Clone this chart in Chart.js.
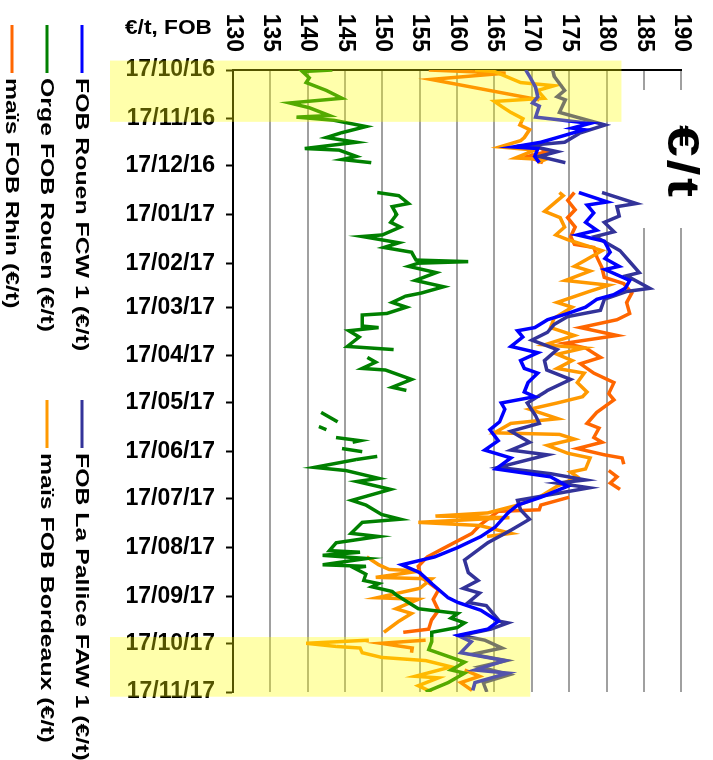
<!DOCTYPE html>
<html>
<head>
<meta charset="utf-8">
<script src="https://cdn.jsdelivr.net/npm/chart.js@4.4.0/dist/chart.umd.min.js"></script>
<style>
  html, body { margin: 0; padding: 0; background: #fff; overflow: hidden; }
  #wrap {
    position: absolute; left: 0; top: 0; width: 760px; height: 713px;
    transform-origin: 0 0; transform: translate(713px, 0) rotate(90deg);
  }
</style>
</head>
<body>
<div id="wrap"><canvas id="prixChart" width="760" height="713"></canvas></div>
<script>
// days since 17/10/16, value in €/t ; null = no quote
const tickLabels = ['17/10/16', '17/11/16', '17/12/16', '17/01/17', '17/02/17', '17/03/17', '17/04/17',
  '17/05/17', '17/06/17', '17/07/17', '17/08/17', '17/09/17', '17/10/17', '17/11/17'];

const seriesNames = ['FOB Rouen FCW 1 (€/t)', 'FOB La Pallice FAW 1 (€/t)', 'Orge FOB Rouen (€/t)',
  'maïs FOB Bordeaux (€/t)', 'maïs FOB Rhin (€/t)'];
const seriesColors = ['#0000ff', '#333399', '#008000', '#ff9900', '#ff6600'];

const rouenFcw = [[0,169.2],[4,169.7],[11,170.5],[17,170.8],[21,170.1],[23,171],[30,170.5],[34,177.8],[37,175.4],[38,177],
  [43,173.4],[46,171.2],[49,167.5],[50,170.8],[55,170.4],[59,171],[60,null],
  [78,176.3],[84,180.1],[86,177.4],[91,178.3],[97,177.2],[102,178.7],[105,176.1],[109,179.7],[116,180.5],[120,179.8],
  [125,181.7],[127,179.8],[134,183.1],[139,182.5],[143,181],[146,178.7],[151,177.2],[155,174.8],[159,172.1],[164,170.4],
  [166,168.1],[170,168.8],[176,167.2],[180,170.8],[185,168.5],[190,169],[193,170.8],[199,169.5],[205,169],[208,170.4],
  [212,165.9],[216,166.4],[224,165.7],[229,164.4],[236,165.5],[242,163.7],[247,167.2],[254,165.2],[259,172.5],[265,174.8],
  [272,171.2],[277,168.1],[282,166.8],[291,165.1],[297,163.2],[304,160.1],[310,157],[315,152.6],[320,155],[327,156.6],
  [336,158.8],[339,160.1],[344,163.2],[351,165.5],[356,164.1],[360,160.1],[364,161.9],[371,160.5],[376,166.4],[382,162.4],
  [384,166.8],[390,162.4],[395,162.1]];

const pallice = [[0,172.8],[4,173],[13,174.4],[17,173.4],[19,174.5],[27,173.7],[35,179.8],[40,176.5],[46,174.4],[48,169.5],
  [52,173.4],[55,171],[59,174.5],[60,null],
  [78,179.4],[85,184],[87,181.4],[93,181.7],[97,179.7],[103,181],[106,178.5],[115,181.8],[122,183.1],[129,184.4],
  [131,182.7],[139,185.8],[141,182.7],[146,179.7],[153,179.2],[157,174.8],[162,173],[167,172.1],[172,170],[178,173.4],
  [185,171.7],[191,172],[197,175.2],[204,172.1],[205,171.8],[212,169.4],[220,170.5],[225,171],[230,167.2],[237,169.7],
  [242,167.2],[245,172.1],[253,165.5],[257,172.5],[261,177.2],[263,173.4],[266,177.7],[274,168.1],[280,168.5],[286,169.7],
  [293,167.2],[301,164.1],[312,161],[320,161.5],[325,162.8],[330,160.8],[333,163],[339,161.5],[341,163.9],[351,165.7],
  [352,166.8],[356,164.5],[360,160.5],[363,163.7],[368,166],[372,162],[376,166.6],[380,163],[385,167],[390,163.5],[396,164]];

const orgeRouen = [[0,143.3],[1,139.3],[5,140.2],[8,139.8],[13,142.5],[18,144.6],[21,137.6],[24,140.2],[29,142.9],[30,138.5],
  [32,143.5],[36,147.8],[40,144.5],[43,142.5],[46,146.5],[50,139.6],[51,144.2],[55,146.5],[57,144.6],[59,148.5],[60,null],
  [78,149.3],[80,152.2],[85,153.5],[87,151.3],[92,151.9],[97,151.1],[100,152.4],[105,150],[106,147.3],[110,152.2],
  [113,150.2],[116,153.9],[121,154.5],[122,161.5],[123,154.8],[125,153.5],[129,157.2],[134,154.4],[138,158.2],[142,155.2],
  [144,153.1],[148,151.3],[151,153.2],[155,150.6],[156,147.3],[163,147.3],[164,149.5],[166,145.5],[170,146.9],[176,145.3],
  [178,151.5],[180,null],[183,148],[186,149.1],[190,147.3],[191,150.4],[197,153.9],[202,151.3],[204,153.2],[206,null],
  [218,141.8],[224,144],[225,null],[227,141.5],[229,142.5],[230,null],[234,143.8],[236,147],[237,146],[239,null],
  [241,144.6],[243,147.3],[244,null],
  [246,149.3],[248,146.5],[253,140.9],[255,145.1],[260,149.5],[262,146.6],[267,151.1],[274,145.9],[277,147.8],[283,149.9],
  [286,152.4],[288,147.3],[295,145.8],[297,149.5],[301,143.8],[306,142.9],[307,147],[309,142],[311,147.9],[315,142],
  [316,147.8],[317,146.2],[321,147.8],[325,147.5],[327,149.5],[329,148.6],[332,151.3],[334,151.8],[343,154.8],[346,160.1],
  [349,159.2],[352,161],[355,160],[358,156.6],[364,156.6],[369,156.2],[374,159.2],[377,161],[382,159.2],[384,161],
  [390,158.8],[396,155.8]];

const maisBordeaux = [[0,162.4],[1,165],[8,168.5],[10,173],[13,170.8],[18,171.7],[20,165],[23,165.9],[27,167.2],[31,168.8],
  [35,168.4],[38,169.7],[43,169],[45,168.5],[49,165.7],[51,170.4],[56,167.8],[57,171.8],[59,170.8],[60,null],
  [78,173.7],[80,174.2],[90,171.7],[94,173.8],[100,174.4],[105,173.2],[108,174.8],[115,179.4],[121,177.2],[125,175.7],
  [128,177.8],[134,174.5],[137,180.3],[141,177.7],[148,173.4],[151,175.4],[158,173],[164,172.5],[169,175.7],[175,171.7],
  [177,177],[181,173.4],[185,175.4],[190,173.4],[193,177],[199,176.1],[205,177.4],[208,176.8],[212,173.4],[216,169.7],
  [222,173.5],[225,167.2],[231,165],[232,173.7],[235,175.7],[239,172.1],[244,174.8],[247,177.8],[254,177.2],[256,175.2],
  [259,176.1],[265,173.4],[272,171],[277,168.1],[282,164.1],[284,157.1],[285,167],[288,154.8],[290,163],[295,167.2],
  [297,164],[300,null],[310,147.9],[315,149.5],[318,150.9],[319,155],[323,149.1],[324,156.6],[330,155],[336,149.3],
  [337,154.8],[343,151.8],[346,153.9],[351,152.2],[358,150.2],[360,null],[363,148.2],[365,139.8],[367,143.8],[368,147],
  [371,147.3],[374,149.9],[376,155.8],[380,159.2],[386,154.4],[387,157.5],[392,154.8],[396,156.6]];

const maisRhin = [[0,156.2],[2,166.5],[6,156.5],[19,171],[20,null],[48,170.5],[52,172],[55,169.5],[59,171.5],[60,null],
  [78,175.7],[83,174.8],[89,175.8],[94,174.8],[100,175.8],[106,175.2],[111,175.7],[113,178.3],[119,178.7],[126,179.4],
  [132,179.7],[136,182.3],[142,183.4],[148,182.7],[155,183.1],[159,181.4],[164,176.5],[169,181.4],[174,174.4],[177,177.2],
  [183,179.2],[187,176.5],[193,178.3],[199,181],[206,180.3],[210,181],[218,178.7],[225,177.4],[228,179],[234,178.3],
  [237,179.4],[241,176.1],[245,179.7],[247,182.1],[251,182.3],[253,null],[255,180.3],[259,181.4],[263,180.5],[267,181.8],
  [269,null],[272,175],[277,171.2],[280,171],[281,165.5],[286,164.1],[290,163],[295,162],[300,160],[305,158],[310,156],
  [316,154.8],[323,155.2],[331,157.5],[337,156.8],[344,157.5],[350,156.6],[356,156.2],[358,152.8],[360,null],
  [363,155.8],[365,149.8],[368,154],[371,153.9],[373,null],[382,161],[386,163],[390,160.5],[395,162]];

const allSeries = [rouenFcw, pallice, orgeRouen, maisBordeaux, maisRhin];

// yellow highlight windows: [from day, to day, top value]
const highlights = [[-6, 33, 182], [361, 399, 169.8]];

const startDate = new Date(2016, 9, 17);
const tickDays = tickLabels.map(function (s) {
  const p = s.split('/');
  const d = new Date(2000 + parseInt(p[2]), parseInt(p[1]) - 1, parseInt(p[0]));
  return Math.round((d - startDate) / 86400000);
});

const FONT = '"Liberation Sans", Arial, sans-serif';

// text stretched sideways like the original picture
function wideText(ctx, text, x, y, sx) {
  ctx.save();
  ctx.translate(x, y);
  ctx.scale(sx, 1);
  ctx.fillText(text, 0, 0);
  ctx.restore();
}

const decorPlugin = {
  id: 'decor',
  beforeDatasetsDraw(chart) {
    const ctx = chart.ctx;
    ctx.save();
    ctx.fillStyle = '#fff';
    ctx.fillRect(90, 0, 138, 93);
    ctx.restore();
  },
  afterDatasetsDraw(chart) {
    const ctx = chart.ctx;
    const xs = chart.scales.x, ys = chart.scales.y;
    ctx.save();
    ctx.fillStyle = 'rgba(255,255,0,0.33)';
    highlights.forEach(function (h) {
      const x0 = xs.getPixelForValue(h[0]);
      const x1 = xs.getPixelForValue(h[1]);
      const yTop = ys.getPixelForValue(h[2]);
      ctx.fillRect(x0, yTop, x1 - x0, 603 - yTop);
    });
    ctx.restore();
  },
  afterDraw(chart) {
    const ctx = chart.ctx;
    ctx.save();
    ctx.fillStyle = '#000';
    ctx.textAlign = 'left';
    // title
    ctx.font = 'bold 44px ' + FONT;
    ctx.letterSpacing = '2px';
    ctx.textBaseline = 'alphabetic';
    wideText(ctx, '€/t', 125, 45, 1.3);
    // unit label
    ctx.letterSpacing = '0px';
    ctx.save();
    ctx.translate(28, 588);
    ctx.rotate(-Math.PI / 2);
    ctx.font = 'bold 21px ' + FONT;
    ctx.textBaseline = 'middle';
    wideText(ctx, '€/t, FOB', 0, 0, 1.08);
    ctx.restore();
    // legend, two columns
    const cols = [25, 400];
    const rows = [631, 666, 701];
    const order = [[0, 0, 0], [1, 1, 0], [2, 0, 1], [3, 1, 1], [4, 0, 2]];
    ctx.font = 'bold 18px ' + FONT;
    ctx.textBaseline = 'middle';
    order.forEach(function (o) {
      const i = o[0], x = cols[o[1]], y = rows[o[2]];
      ctx.strokeStyle = seriesColors[i];
      ctx.lineWidth = 3;
      ctx.beginPath();
      ctx.moveTo(x, y);
      ctx.lineTo(x + 48, y);
      ctx.stroke();
      ctx.fillStyle = '#000';
      wideText(ctx, seriesNames[i], x + 53, y + 1, 1.38);
    });
    ctx.restore();
  }
};

const ctx = document.getElementById('prixChart').getContext('2d');
const prixChart = new Chart(ctx, {
  type: 'line',
  data: {
    datasets: allSeries.map(function (s, i) {
      return {
        label: seriesNames[i],
        data: s.map(function (p) { return { x: p[0], y: p[1] }; }),
        borderColor: seriesColors[i],
        backgroundColor: seriesColors[i],
        borderWidth: 3.5,
        pointRadius: 0,
        tension: 0,
        spanGaps: false
      };
    })
  },
  options: {
    responsive: false,
    animation: false,
    layout: { padding: { top: 28, right: 68, left: 0, bottom: 0 } },
    plugins: {
      legend: { display: false },
      title: { display: false },
      tooltip: { enabled: false }
    },
    scales: {
      x: {
        type: 'linear',
        min: 0,
        max: tickDays[tickDays.length - 1],
        afterBuildTicks: function (scale) {
          scale.ticks = tickDays.map(function (d) { return { value: d }; });
        },
        afterFit: function (scale) { scale.height = 233; },
        ticks: {
          autoSkip: false,
          minRotation: 90,
          maxRotation: 90,
          padding: 11,
          color: '#000',
          font: { family: FONT, size: 23, weight: 'bold' },
          callback: function (v) {
            const k = tickDays.indexOf(v);
            return k >= 0 ? tickLabels[k] : '';
          }
        },
        grid: { drawOnChartArea: false, drawTicks: true, tickLength: 7, tickColor: '#000', tickWidth: 2 },
        border: { color: '#000', width: 2 }
      },
      y: {
        min: 130,
        max: 190,
        afterFit: function (scale) { scale.width = 70; },
        ticks: {
          stepSize: 5,
          padding: 18,
          color: '#000',
          font: { family: FONT, size: 23, weight: 'bold' }
        },
        grid: { color: '#a0a0a0', lineWidth: 2, drawTicks: false },
        border: { color: '#000', width: 2 }
      }
    }
  },
  plugins: [decorPlugin]
});
</script>
</body>
</html>
